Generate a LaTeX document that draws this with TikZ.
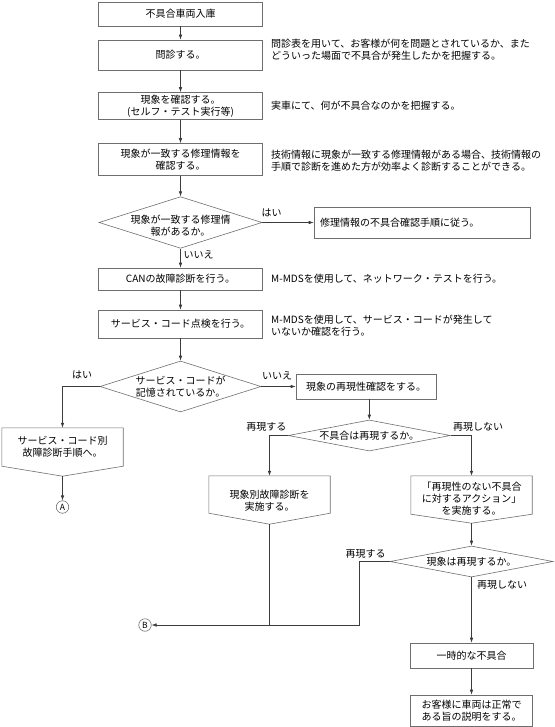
\documentclass[tikz,border=0pt]{standalone}
\usepackage{fontspec}
\setmainfont{Noto Sans CJK JP}
\usepackage{xcolor}
\usepackage{tikz}
\usetikzlibrary{shapes.geometric, arrows.meta, positioning, calc}
\definecolor{framegray}{RGB}{110,110,110}
\definecolor{flowgray}{RGB}{60,60,60}
\newcommand{\tagoutline}[2]{%
  \draw[frame] (#1.north west) -- (#1.north east) -- (#1.south east) -- ([yshift=-#2pt]#1.south) -- (#1.south west) -- cycle;
  \coordinate (#1-tip) at ([yshift=-#2pt]#1.south);}

\begin{document}
\begin{tikzpicture}[
    x=1pt, y=-1pt,
    font=\fontsize{10pt}{12pt}\selectfont,
    frame/.style={draw=framegray, line width=0.6pt},
    stepbox/.style={frame, rectangle, minimum width=164pt, inner sep=0pt, align=center},
    tagbox/.style={rectangle, minimum width=121pt, inner sep=0pt},
    decision/.style={frame, diamond, inner sep=0pt},
    note/.style={anchor=west, align=left, inner sep=0pt},
    lbl/.style={inner sep=0pt, align=center},
    flow/.style={draw=flowgray, line width=0.6pt, -{Latex[length=5pt,width=3.5pt]}},
    link/.style={draw=flowgray, line width=0.6pt},
    connector/.style={frame, circle, minimum size=12.5pt, inner sep=0pt, font=\fontsize{8.5pt}{8.5pt}\selectfont}
]
\useasboundingbox (0,0) rectangle (554,727);

\node[stepbox, minimum height=24pt] (B1) at (180.5,14) {不具合車両入庫};
\node[stepbox, minimum height=30pt] (B2) at (180.5,55) {問診する。};
\node[stepbox, minimum height=27pt] (B3) at (180.5,106) {現象を確認する。\\(セルフ・テスト実行等)};
\node[stepbox, minimum height=32pt] (B4) at (180.5,159.5) {現象が一致する修理情報を\\確認する。};
\node[decision, minimum width=163pt, minimum height=51.6pt] (D1) at (180.5,222.5) {};
\node[lbl] (D1t) at (180.5,226) {現象が一致する修理情\\報があるか。};
\node[stepbox, minimum width=216pt, text width=204pt, align=left, minimum height=31pt] (R1) at (422,222.5) {修理情報の不具合確認手順に従う。};
\node[stepbox, minimum height=22pt] (B5) at (180.5,279) {CANの故障診断を行う。};
\node[stepbox, minimum height=28pt] (B6) at (180.5,324) {サービス・コード点検を行う。};
\node[decision, minimum width=161pt, minimum height=51pt] (D2) at (180.5,386.5) {};
\node[lbl] (D2t) at (180.5,386.5) {サービス・コードが\\記憶されているか。};
\node[stepbox, minimum width=140pt, minimum height=25pt] (B8) at (366,386.5) {現象の再現性確認をする。};
\node[decision, minimum width=162pt, minimum height=31pt] (D3) at (369.3,435.5) {};
\node[lbl] (D3t) at (369.3,435.5) {不具合は再現するか。};

\node[tagbox, minimum height=38pt] (T1) at (62.5,447) {};
\tagoutline{T1}{10}
\node[lbl] (T1t) at (62.5,447) {サービス・コード別\\故障診断手順へ。};
\node[tagbox, minimum height=37pt] (T2) at (269.5,494.5) {};
\tagoutline{T2}{11}
\node[lbl] (T2t) at (269.5,501) {現象別故障診断を\\実施する。};
\node[tagbox, minimum height=38pt] (T3) at (471.5,495) {};
\tagoutline{T3}{9}
\node[lbl] (T3t) at (471.5,498.5) {「再現性のない不具合\\に対するアクション」\\を実施する。};

\node[connector] (CA) at (62.5,507) {A};
\node[decision, minimum width=163pt, minimum height=31pt] (D4) at (471.5,561.5) {};
\node[lbl] (D4t) at (471.5,562) {現象は再現するか。};
\node[connector] (CB) at (145,625) {B};
\coordinate (J1) at (359,625);
\node[stepbox, minimum width=123pt, minimum height=25pt] (B11) at (471.5,655.5) {一時的な不具合};
\node[stepbox, minimum width=122pt, minimum height=31pt] (B12) at (471.5,710.5) {お客様に車両は正常で\\ある旨の説明をする。};

\node[note] (N2) at (271,50) {問診表を用いて、お客様が何を問題とされているか、また\\どういった場面で不具合が発生したかを把握する。};
\node[note] (N3) at (271,106) {実車にて、何が不具合なのかを把握する。};
\node[note] (N4) at (271,160.5) {技術情報に現象が一致する修理情報がある場合、技術情報の\\手順で診断を進めた方が効率よく診断することができる。};
\node[note] (N5) at (271,279) {M-MDSを使用して、ネットワーク・テストを行う。};
\node[note] (N6) at (271,326) {M-MDSを使用して、サービス・コードが発生して\\いないか確認を行う。};

\node[lbl] (L1) at (271.5,213) {はい};
\node[lbl] (L2) at (198.5,255) {いいえ};
\node[lbl] (L3) at (82,375) {はい};
\node[lbl] (L4) at (277,375.5) {いいえ};
\node[lbl] (L5) at (266.3,426.7) {再現する};
\node[lbl] (L6) at (478,426.7) {再現しない};
\node[lbl] (L7) at (365.5,554) {再現する};
\node[lbl] (L8) at (502,585) {再現しない};

\draw[flow] (B1) -- (B2);
\draw[flow] (B2) -- (B3);
\draw[flow] (B3) -- (B4);
\draw[flow] (B4) -- (D1);
\draw[flow] (D1) -- (R1);
\draw[flow] (D1) -- (B5);
\draw[flow] (B5) -- (B6);
\draw[flow] (B6) -- (D2);
\draw[flow] (D2.west) -| (T1.north);
\draw[flow] (D2) -- (B8);
\draw[flow] (B8.south -| D3.north) -- (D3.north);
\draw[flow] (D3.west) -| (T2.north);
\draw[flow] (D3.east) -| (T3.north);
\draw[flow] (T1-tip) -- (CA);
\draw[flow] (T3-tip) -- (D4);
\draw[link] (T2-tip) -- (T2-tip |- J1);
\draw[flow] (D4.west) -| (J1) -- (CB);
\draw[flow] (D4) -- (B11);
\draw[flow] (B11) -- (B12);
\end{tikzpicture}
\end{document}
